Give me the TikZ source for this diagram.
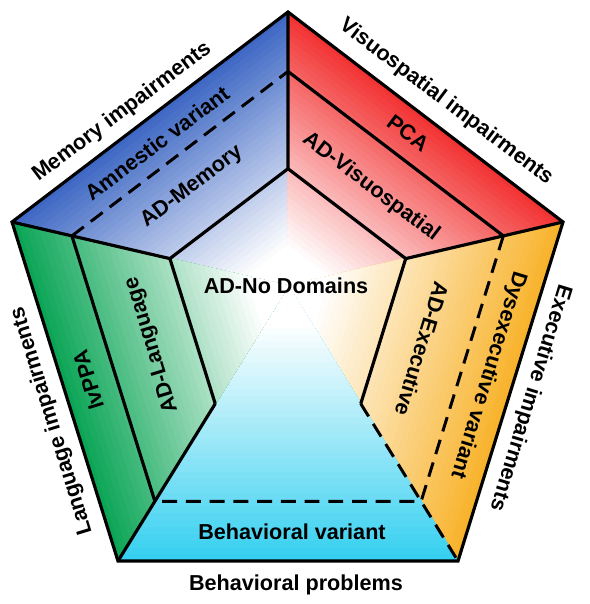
\documentclass[tikz,border=0pt]{standalone}
\usepackage{fontspec}
\setmainfont{Liberation Sans}
\usepackage{xcolor}
\usepackage{tikz}
\usetikzlibrary{calc}
\definecolor{memblue}{HTML}{3E68C4}
\definecolor{visred}{HTML}{F23333}
\definecolor{exeorange}{HTML}{F8B32C}
\definecolor{behcyan}{HTML}{36D0F0}
\definecolor{langgreen}{HTML}{0CA556}

\begin{document}
\begin{tikzpicture}[
    x=0.02cm, y=-0.02cm,
    edge/.style={line width=1.8pt, black},
    dashedge/.style={line width=1.7pt, black, dash pattern=on 8.5pt off 5pt},
    lbl/.style={font=\fontsize{12.3}{14}\selectfont\bfseries, inner sep=0pt}
]
\useasboundingbox (0,0) rectangle (589,604);

% Pentagon corners
\coordinate (C) at (288,286);
\coordinate (T) at (288,12);
\coordinate (R) at (563,222);
\coordinate (BR) at (458,561);
\coordinate (BL) at (118,561);
\coordinate (L) at (12,222);
\foreach \v in {T,R,BR,BL,L}{
  \coordinate (m\v) at ($(C)!0.783!(\v)$);
  \coordinate (i\v) at ($(C)!0.428!(\v)$);
}

% Colour fans, edge colour fading to white at the centre
\foreach \a/\b/\c in {L/T/memblue, T/R/visred, R/BR/exeorange, BR/BL/behcyan, BL/L/langgreen}{
  \foreach \k in {40,39,...,1}{
    \pgfmathsetmacro{\s}{\k/40}
    \pgfmathsetmacro{\p}{max(0,(\s-0.15)/0.85*100)}
    \fill[\c!\p!white, draw=\c!\p!white, line width=0.6pt] (C) -- ($(C)!\s!(\a)$) -- ($(C)!\s!(\b)$) -- cycle;
  }
}

% Borders
\draw[edge] (T) -- (R) -- (BR) -- (BL) -- (L) -- cycle;
\draw[edge] (mT) -- (mR);
\draw[edge] (mBL) -- (mL);
\draw[dashedge] (mL) -- (mT);
\draw[dashedge] (mR) -- (mBR) -- (mBL);
\draw[edge] (iBR) -- (iR) -- (iT) -- (iL) -- (iBL);
\draw[edge] (iT) -- (T);
\draw[edge] (iL) -- (L);
\draw[edge] (iR) -- (R);
\draw[edge] (iBL) -- (BL);
\draw[dashedge] (iBR) -- (BR);

% Labels
\node[lbl] (nodom) at (286,286) {AD-No Domains};
\node[lbl, rotate=37] (memimp) at (122,112) {Memory impairments};
\node[lbl, rotate=37] (amnestic) at (157,143) {Amnestic variant};
\node[lbl, rotate=37] (admem) at (192,187) {AD-Memory};
\node[lbl, rotate=-37] (visimp) at (446,102) {Visuospatial impairments};
\node[lbl, rotate=-37] (pca) at (408,133) {PCA};
\node[lbl, rotate=-37] (advis) at (371,187) {AD-Visuospatial};
\node[lbl, rotate=-107] (exeimp) at (530,398) {Executive impairments};
\node[lbl, rotate=-107] (dysexe) at (488,375) {Dysexecutive variant};
\node[lbl, rotate=-107] (adexe) at (422,349) {AD-Executive};
\node[lbl] (behvar) at (292,532) {Behavioral variant};
\node[lbl] (behprob) at (296,585) {Behavioral problems};
\node[lbl, rotate=107] (langimp) at (52,421) {Language impairments};
\node[lbl, rotate=107] (lvppa) at (88,380) {lvPPA};
\node[lbl, rotate=107] (adlang) at (152,345) {AD-Language};
\end{tikzpicture}
\end{document}
